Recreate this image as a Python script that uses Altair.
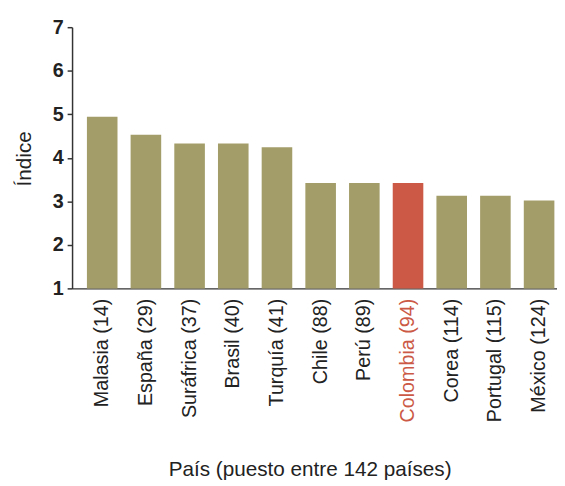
import altair as alt
import pandas as pd

paises = ["Malasia (14)", "España (29)", "Suráfrica (37)", "Brasil (40)", "Turquía (41)",
          "Chile (88)", "Perú (89)", "Colombia (94)", "Corea (114)", "Portugal (115)", "México (124)"]
indice = [4.94, 4.53, 4.33, 4.33, 4.24, 3.42, 3.42, 3.42, 3.13, 3.13, 3.02]
resaltado = "Colombia (94)"

df = pd.DataFrame({"pais": paises, "indice": indice})
df["destacado"] = df["pais"] == resaltado

FONT = "Liberation Sans"
AXC = "#333333"

chart = alt.Chart(df).mark_bar().encode(
    x=alt.X("pais:N", sort=paises,
            scale=alt.Scale(paddingInner=0.3, paddingOuter=0.2, align=0.85),
            axis=alt.Axis(title="País (puesto entre 142 países)", labelAngle=-90,
                          labelFont=FONT, labelFontSize=20, labelPadding=10,
                          labelColor=alt.ExprRef(f"datum.value == '{resaltado}' ? '#cb5945' : '#222222'"),
                          ticks=False, domainColor=AXC, domainWidth=1.5,
                          titleFont=FONT, titleFontSize=21, titleFontWeight="normal",
                          titleColor="#222222", titleX=241, titleY=190,
                          titleAlign="center", titleBaseline="alphabetic")),
    y=alt.Y("indice:Q", scale=alt.Scale(domain=[1, 7], nice=False, zero=False),
            axis=alt.Axis(title="Índice", values=[1, 2, 3, 4, 5, 6, 7], grid=False,
                          labelFont=FONT, labelFontSize=20, labelFontWeight="bold",
                          labelColor="#222222", labelPadding=4,
                          tickSize=5, tickColor=AXC, tickWidth=1.5,
                          domainColor=AXC, domainWidth=1.5,
                          titleFont=FONT, titleFontSize=21, titleFontWeight="normal",
                          titleColor="#222222", titleX=-42, titleY=133, titleAngle=-90,
                          titleAlign="center", titleBaseline="alphabetic")),
    y2=alt.datum(1),
    color=alt.Color("destacado:N", scale=alt.Scale(domain=[False, True], range=["#a39d69", "#cb5945"]),
                    legend=None),
).properties(
    width=492, height=265,
    autosize="none",
    padding={"left": 65, "top": 16, "right": 0, "bottom": 196},
).configure_view(stroke=None)

chart.save("out.html", embed_options={"renderer": "svg", "actions": False})
